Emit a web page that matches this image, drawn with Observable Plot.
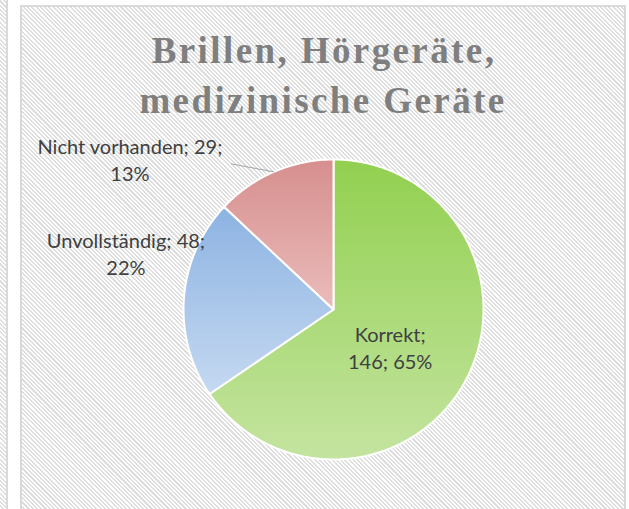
<!DOCTYPE html>
<html><head><meta charset="utf-8">
<script src="https://cdn.jsdelivr.net/npm/d3@7"></script>
<script src="https://cdn.jsdelivr.net/npm/@observablehq/plot@0.6"></script>
<style>
html,body{margin:0;padding:0;background:#fff;}
body{width:629px;height:509px;position:relative;overflow:hidden;}
.hatch{background:repeating-linear-gradient(45deg,#ffffff 0 1.5px,#dedede 1.5px 3px);}
#strip{position:absolute;left:0;top:0;width:6px;height:509px;border-right:2px solid #d9d9d9;}
#panel{position:absolute;left:20px;top:5px;width:602px;height:600px;border:2px solid #d9d9d9;}
#title{position:absolute;left:20px;top:26px;width:606px;text-align:center;font-family:"Liberation Serif",serif;font-weight:bold;font-size:37px;line-height:49.5px;color:#7f7f7f;letter-spacing:2.4px;text-indent:2px;}
#chart{position:absolute;left:0;top:0;}
</style></head>
<body>
<div id="strip" class="hatch"></div>
<div id="panel" class="hatch"></div>
<div id="title">Brillen, Hörgeräte,<br>medizinische Geräte</div>
<div id="chart"></div>
<script>
const categories = ["Korrekt", "Unvollständig", "Nicht vorhanden"];
const counts = [146, 48, 29];
const percents = ["65%", "22%", "13%"];
const topColors = ["#92d050", "#8db3e2", "#d68f8e"];
const bottomColors = ["#c4e4a0", "#c5d9f1", "#eabcbb"];

const arcs = d3.pie().sort(null).startAngle(0).endAngle(2 * Math.PI)(counts);

// slice polygons in unit-circle data space
const slicePts = [];
arcs.forEach((a, i) => {
  slicePts.push({slice: i, x: 0, y: 0});
  const n = Math.max(2, Math.ceil((a.endAngle - a.startAngle) / (Math.PI / 180)));
  for (let k = 0; k <= n; ++k) {
    const t = a.startAngle + (a.endAngle - a.startAngle) * k / n;
    slicePts.push({slice: i, x: Math.sin(t), y: Math.cos(t)});
  }
});

// label placement (polar at mid-angle, then pixel nudges)
const layout = [
  {r: 0.45, dx: -3, dy: 6, wrap: 1},
  {r: 1.0, dx: -58, dy: -45, wrap: 2},
  {r: 1.0, dx: -144, dy: -13, wrap: 2}
];
const labels = arcs.map((a, i) => {
  const m = (a.startAngle + a.endAngle) / 2;
  const L = layout[i];
  const parts = [categories[i] + ";", counts[i] + ";", percents[i]];
  const text = parts.slice(0, L.wrap).join(" ") + "\n" + parts.slice(L.wrap).join(" ");
  return {x: L.r * Math.sin(m), y: L.r * Math.cos(m), text, dx: L.dx, dy: L.dy, mid: m};
});

const R = 150; // px per data unit
const lead = labels[2];
const leader = [{x1: Math.sin(lead.mid), y1: Math.cos(lead.mid), x2: Math.sin(lead.mid) - 43 / R, y2: Math.cos(lead.mid) + 8 / R}];

function defs() {
  const ns = "http://www.w3.org/2000/svg";
  const d = document.createElementNS(ns, "defs");
  topColors.forEach((c, i) => {
    const g = document.createElementNS(ns, "linearGradient");
    g.setAttribute("id", "grad" + i);
    g.setAttribute("x1", "0"); g.setAttribute("y1", "0");
    g.setAttribute("x2", "0"); g.setAttribute("y2", "1");
    [[0, c], [1, bottomColors[i]]].forEach(([o, col]) => {
      const s = document.createElementNS(ns, "stop");
      s.setAttribute("offset", o);
      s.setAttribute("stop-color", col);
      g.appendChild(s);
    });
    d.appendChild(g);
  });
  return d;
}

const chart = Plot.plot({
  width: 629,
  height: 509,
  marginLeft: 183,
  marginRight: 146,
  marginTop: 159,
  marginBottom: 50,
  x: {domain: [-1, 1], axis: null},
  y: {domain: [-1, 1], axis: null},
  style: {background: "transparent", fontFamily: "Lato", fontSize: "20px", color: "#404040", overflow: "visible"},
  marks: [
    defs,
    ...categories.map((c, i) => Plot.line(slicePts.filter(d => d.slice === i), {
      x: "x", y: "y", curve: "linear-closed", fill: "url(#grad" + i + ")",
      stroke: "white", strokeWidth: 2, strokeLinejoin: "round"
    })),
    Plot.link(leader, {x1: "x1", y1: "y1", x2: "x2", y2: "y2", stroke: "#a6a6a6", strokeWidth: 1}),
    ...labels.map(l => Plot.text([l], {x: "x", y: "y", text: "text", dx: l.dx, dy: l.dy, lineHeight: 1.35, fill: "#404040", fontSize: 20}))
  ]
});
document.getElementById("chart").appendChild(chart);
</script>
</body></html>
